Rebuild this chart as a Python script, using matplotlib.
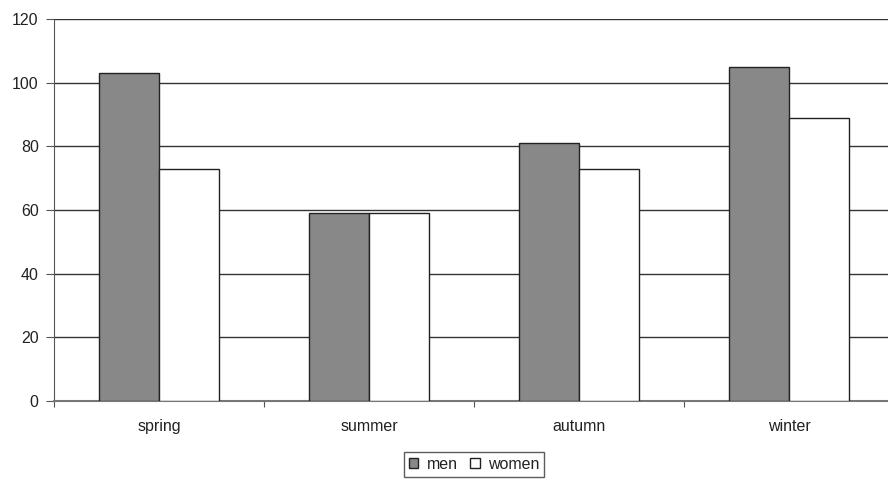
import matplotlib
matplotlib.use("Agg")
import matplotlib.pyplot as plt
import numpy as np

plt.rcParams['font.family'] = ['Liberation Sans', 'DejaVu Sans']

categories = ["spring", "summer", "autumn", "winter"]
men = [103, 59, 81, 105]
women = [73, 59, 73, 89]
yticks = [0, 20, 40, 60, 80, 100, 120]

fig = plt.figure(figsize=(8.88, 4.82), dpi=100)
ax = fig.add_axes([54/888, 81/482, 840/888, 382/482])

x = np.arange(len(categories)) + 0.5
w = 0.285
ax.bar(x - w/2, men, width=w, color="#888888", edgecolor="#222222", linewidth=1, label="men", zorder=3)
ax.bar(x + w/2, women, width=w, color="white", edgecolor="#222222", linewidth=1, label="women", zorder=3)

ax.set_xlim(0, 4)
ax.set_ylim(0, 120)
ax.set_yticks(yticks)
ax.yaxis.grid(True, color="#333333", linewidth=1)
ax.set_axisbelow(True)

ax.set_xticks([0, 1, 2, 3, 4])
ax.set_xticklabels([])
ax.set_xticks(x, minor=True)
ax.set_xticklabels(categories, minor=True)
ax.tick_params(axis="x", which="minor", length=0, pad=13, labelsize=11.5, labelcolor="#222222")
ax.tick_params(axis="x", which="major", length=4, color="#555555", direction="out")
ax.tick_params(axis="y", length=6, color="#555555", labelsize=11.5, pad=5, labelcolor="#222222")

for s in ["top", "right"]:
    ax.spines[s].set_visible(False)
ax.spines["left"].set_color("#555555")
ax.spines["bottom"].set_color("#777777")
ax.spines["bottom"].set_linewidth(1.5)

leg = ax.legend(loc="upper center", bbox_to_anchor=(420/840, -51/382), ncol=2, frameon=True,
                fancybox=False, edgecolor="#333333", fontsize=11.5, handlelength=0.6,
                handleheight=0.6, handletextpad=0.5, columnspacing=0.8, borderpad=0.3,
                borderaxespad=0)
leg.get_frame().set_linewidth(1)
for t in leg.get_texts():
    t.set_color("#222222")

fig.savefig("out.png", dpi=100)
